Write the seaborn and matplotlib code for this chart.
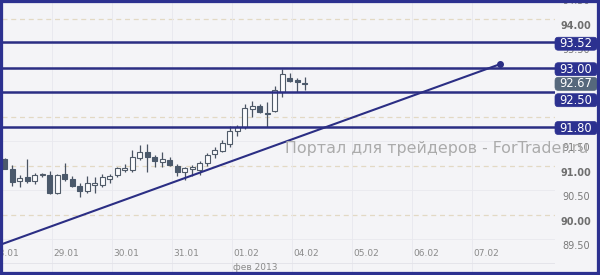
import numpy as np
import pandas as pd
import matplotlib
matplotlib.use("Agg")
import matplotlib.pyplot as plt
import matplotlib.transforms as mtransforms
from matplotlib.patches import Rectangle, FancyBboxPatch
import seaborn as sns

# ---- data ----
opens = [91.13, 90.93, 90.69, 90.76, 90.69, 90.81, 90.81, 90.44, 90.83, 90.72,
         90.59, 90.49, 90.61, 90.61, 90.73, 90.81, 90.91, 90.91, 91.16, 91.27,
         91.18, 91.08, 91.12, 90.99, 90.87, 90.93, 90.91, 91.05, 91.23, 91.31,
         91.44, 91.71, 91.78, 92.16, 92.22, 92.07, 92.12, 92.51, 92.80, 92.75, 92.68]
highs = [91.15, 91.01, 90.81, 91.14, 90.86, 90.85, 90.89, 90.84, 91.05, 90.78,
         90.65, 90.78, 90.76, 90.84, 90.84, 90.98, 91.03, 91.32, 91.42, 91.44,
         91.22, 91.27, 91.18, 91.03, 90.98, 91.01, 91.10, 91.25, 91.39, 91.52,
         91.82, 91.84, 92.25, 92.32, 92.25, 92.31, 92.63, 92.97, 92.89, 92.78, 92.82]
lows = [90.93, 90.59, 90.57, 90.64, 90.62, 90.76, 90.42, 90.42, 90.69, 90.57,
        90.36, 90.44, 90.44, 90.57, 90.65, 90.76, 90.87, 90.88, 91.12, 90.87,
        90.98, 90.97, 90.99, 90.78, 90.71, 90.79, 90.81, 90.99, 91.15, 91.27,
        91.39, 91.61, 91.75, 92.00, 92.07, 91.80, 92.10, 92.41, 92.71, 92.51, 92.55]
closes = [90.93, 90.67, 90.74, 90.69, 90.81, 90.84, 90.44, 90.82, 90.73, 90.59,
          90.48, 90.65, 90.64, 90.76, 90.79, 90.95, 90.95, 91.18, 91.29, 91.18,
          91.10, 91.13, 91.01, 90.88, 90.95, 90.97, 91.05, 91.22, 91.33, 91.46,
          91.71, 91.80, 92.18, 92.22, 92.09, 92.05, 92.55, 92.87, 92.73, 92.70, 92.67]

day_labels = ["28.01", "29.01", "30.01", "31.01", "01.02", "04.02", "05.02", "06.02", "07.02"]
month_label = "фев 2013"

level_values = [93.52, 93.00, 92.50, 91.80]
last_price = 92.67
grid_values = [94.50, 94.00, 93.50, 93.00, 92.50, 92.00, 91.50, 91.00, 90.50, 90.00, 89.50]
# axis labels that are not hidden behind the level boxes
axis_label_values = [94.50, 94.00, 93.50, 91.50, 91.00, 90.50, 90.00, 89.50]

trend_x = [-0.36, 66.0]
trend_y = [89.40, 93.07]

watermark = "Портал для трейдеров - ForTrader.ru"

# ---- style ----
sns.set_style("white")
plt.rcParams["font.family"] = ["DejaVu Sans"]

BG = "#f4f4f7"
NAVY = "#2c3190"
LINE = "#2b2e84"
DARK = "#4b596b"
WICK = "#4a5463"
LABEL = "#7a7a7a"

fig = plt.figure(figsize=(6.0, 2.75), dpi=100, facecolor=BG)
ax = fig.add_axes([2 / 600, 3 / 275, 553 / 600, 270 / 275])
ax.set_facecolor(BG)
for s in ax.spines.values():
    s.set_visible(False)
ax.set_xticks([])
ax.set_yticks([])

ax.set_xlim(-0.36, 73.37)
ax.set_ylim(88.831, 94.341)

df = pd.DataFrame({"o": opens, "h": highs, "l": lows, "c": closes})
df["i"] = np.arange(len(df))

# grid
for v in grid_values:
    if abs(v - round(v)) < 1e-9:
        ax.axhline(v, color="#e3d9c4", lw=0.9, ls=(0, (4, 3)), zorder=0)
    else:
        ax.axhline(v, color="#e9e9ee", lw=0.6, zorder=0)
tick_pos = np.arange(len(day_labels)) * 8 - 1.7
for t in tick_pos:
    ax.axvline(t, color="#e8e8ee", lw=0.6, zorder=0)
ax.plot([0, 1], [0.033, 0.033], transform=ax.transAxes, color="#e2e2e8", lw=0.6, zorder=0)

# candles
up = df["c"] >= df["o"]
ax.vlines(df["i"], df["l"], df["h"], color=WICK, lw=0.9, zorder=2)
body_lo = np.minimum(df["o"], df["c"])
body_h = np.maximum(np.abs(df["c"] - df["o"]), 0.012)
ax.bar(df["i"][up], body_h[up], bottom=body_lo[up], width=0.68,
       color="#fbfbfd", edgecolor="#505b69", linewidth=0.8, zorder=3)
ax.bar(df["i"][~up], body_h[~up], bottom=body_lo[~up], width=0.68,
       color=DARK, edgecolor=DARK, linewidth=0.8, zorder=3)

# horizontal levels
for v in level_values:
    ax.axhline(v, color=LINE, lw=1.8, zorder=4)

# trend line
sns.lineplot(x=trend_x, y=trend_y, ax=ax, color=LINE, lw=1.5, zorder=5)
ax.scatter([trend_x[-1]], [trend_y[-1]], s=16, color=LINE, zorder=6)

# x labels inside plot
xform = mtransforms.blended_transform_factory(ax.transData, ax.transAxes)
for t, lab in zip(tick_pos, day_labels):
    ax.text(t + 0.15, 0.067, lab, transform=xform, ha="left", va="center",
            fontsize=6.5, color="#8a8a8a", clip_on=False)
ax.text(tick_pos[4] + 0.15, 0.016, month_label, transform=xform, ha="left",
        va="center", fontsize=6.5, color="#8a8a8a", clip_on=False)

# right axis labels
yform = mtransforms.blended_transform_factory(ax.transAxes, ax.transData)
for v in axis_label_values:
    isint = abs(v - round(v)) < 1e-9
    ax.annotate(f"{v:.2f}", xy=(1.038, v), xycoords=yform, xytext=(0, -5),
                textcoords="offset points", ha="center", va="center",
                fontsize=7, color="#6e6e6e" if isint else LABEL,
                fontweight="bold" if isint else "normal", annotation_clip=False, zorder=7)

# boxed level labels
x0, x1 = 1.0, 1.076
PX = 1 / 49.0          # data units per pixel on the price axis
half_h = 6.5 * PX
aspect = PX / (1 / 553.0)


def box_label(v, color, shift_px=1.5):
    yc = v - shift_px * PX
    p = FancyBboxPatch((x0, yc - half_h), x1 - x0, 2 * half_h,
                       boxstyle="round,pad=0,rounding_size=0.006",
                       mutation_aspect=aspect, transform=yform,
                       fc=color, ec=color, lw=0.5, clip_on=False, zorder=8)
    ax.add_patch(p)
    ax.text((x0 + x1) / 2, yc, f"{v:.2f}", transform=yform, ha="center", va="center",
            fontsize=8.3, color="white", clip_on=False, zorder=9)


for v in level_values:
    # the 92.50 box is pushed down so it does not cover the last-price box
    box_label(v, NAVY, 8.0 if v == 92.50 else 1.5)
box_label(last_price, "#56687c", 0.0)

# watermark
fig.text(285 / 600, 1 - 148 / 275, watermark, ha="left", va="center",
         fontsize=11.4, color="#ababab", zorder=10)

# border
fig.patches.append(Rectangle((0, 0), 1, 1, transform=fig.transFigure, fill=False,
                             ec=NAVY, lw=4.5, zorder=20))

fig.savefig("out.png", dpi=100, facecolor=BG)
